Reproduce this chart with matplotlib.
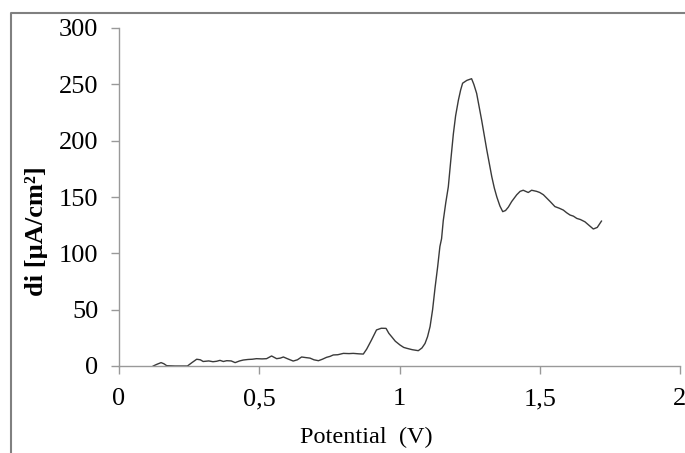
import numpy as np
import matplotlib
matplotlib.use("Agg")
import matplotlib.pyplot as plt
from matplotlib.lines import Line2D

potential = [0.122, 0.135, 0.150, 0.160, 0.170, 0.20, 0.244, 0.26, 0.277, 0.29,
             0.30, 0.32, 0.335, 0.348, 0.36, 0.372, 0.384, 0.40, 0.414, 0.43,
             0.443, 0.46, 0.475, 0.49, 0.51, 0.526, 0.544, 0.562, 0.575, 0.586,
             0.60, 0.621, 0.636, 0.651, 0.665, 0.681, 0.695, 0.711, 0.725, 0.74,
             0.752, 0.764, 0.78, 0.80, 0.82, 0.835, 0.855, 0.871, 0.883, 0.90,
             0.918, 0.935, 0.952, 0.962, 0.972, 0.985, 1.002, 1.015, 1.026, 1.045,
             1.067, 1.08, 1.091, 1.10, 1.109, 1.118, 1.127, 1.136, 1.144, 1.15,
             1.156, 1.165, 1.174, 1.183, 1.192, 1.20, 1.21, 1.218, 1.225, 1.24,
             1.257, 1.265, 1.275, 1.284, 1.293, 1.302, 1.311, 1.32, 1.329, 1.338,
             1.347, 1.358, 1.368, 1.378, 1.388, 1.40, 1.418, 1.43, 1.441, 1.45,
             1.459, 1.471, 1.489, 1.50, 1.513, 1.525, 1.537, 1.554, 1.57, 1.584,
             1.596, 1.608, 1.62, 1.632, 1.645, 1.661, 1.675, 1.691, 1.705, 1.72]
current = [0, 1.5, 3, 2, 0.3, 0, 0, 3, 6, 5.5,
           4, 4.5, 3.8, 4.2, 5, 4, 4.7, 4.5, 3, 4.5,
           5.3, 5.8, 6, 6.5, 6.3, 6.5, 8.9, 6.5, 7, 8,
           6.5, 4.4, 5.5, 8, 7.5, 7, 5.5, 4.7, 6, 7.7,
           8.5, 9.8, 10, 11.2, 11, 11.2, 10.8, 10.6, 15, 23,
           32, 33.5, 33.4, 29, 26, 22, 18.6, 16.5, 15.7, 14.5,
           13.6, 16, 20, 26, 35, 50, 70, 88, 106, 113,
           129, 145, 159, 183, 206, 222, 236, 245, 251, 253.5,
           255, 250, 242, 230, 218, 205, 192, 180, 168, 158,
           150, 142, 137, 138, 141, 146, 152, 155, 156, 155,
           154, 156, 155, 154, 152, 149, 146, 141.5, 140, 138.4,
           136, 134, 133, 131, 130, 128, 125, 121.6, 123, 128.6]

xticks = [0, 0.5, 1, 1.5, 2]
xtick_labels = ["0", "0,5", "1", "1,5", "2"]
yticks = [0, 50, 100, 150, 200, 250, 300]

plt.rcParams['font.family'] = ['Liberation Serif', 'DejaVu Serif']

fig = plt.figure(figsize=(6.85, 4.53), dpi=100)
ax = fig.add_axes([119/685, 1 - 366/453, (680 - 119)/685, (366 - 28)/453])

ax.plot(potential, current, color='#3a3a3a', lw=1.0)

ax.set_xlim(0, 2)
ax.set_ylim(0, 300)
ax.set_xticks(xticks)
ax.set_xticklabels(xtick_labels)
ax.set_yticks(yticks)

for s in ['top', 'right']:
    ax.spines[s].set_visible(False)
for s in ['left', 'bottom']:
    ax.spines[s].set_color('#999999')
    ax.spines[s].set_linewidth(1.0)

ax.tick_params(axis='both', colors='#999999', labelcolor='black', labelsize=19,
               length=6, width=1.0)
ax.tick_params(axis='x', pad=10)
ax.tick_params(axis='y', pad=9)

fig.text(366/685, 1 - 437/453, "Potential  (V)", ha='center', va='center', fontsize=17.5)
fig.text(37/685, 1 - 231/453, "di [µA/cm²]", ha='center', va='center', fontsize=19,
         fontweight='bold', rotation=90)

# outer frame (only left and top edges visible in the crop)
fig.add_artist(Line2D([11/685, 11/685, 1.0], [0, 1 - 13/453, 1 - 13/453],
                      transform=fig.transFigure, color='#808080', lw=1.5))

fig.savefig("out.png", dpi=100)
